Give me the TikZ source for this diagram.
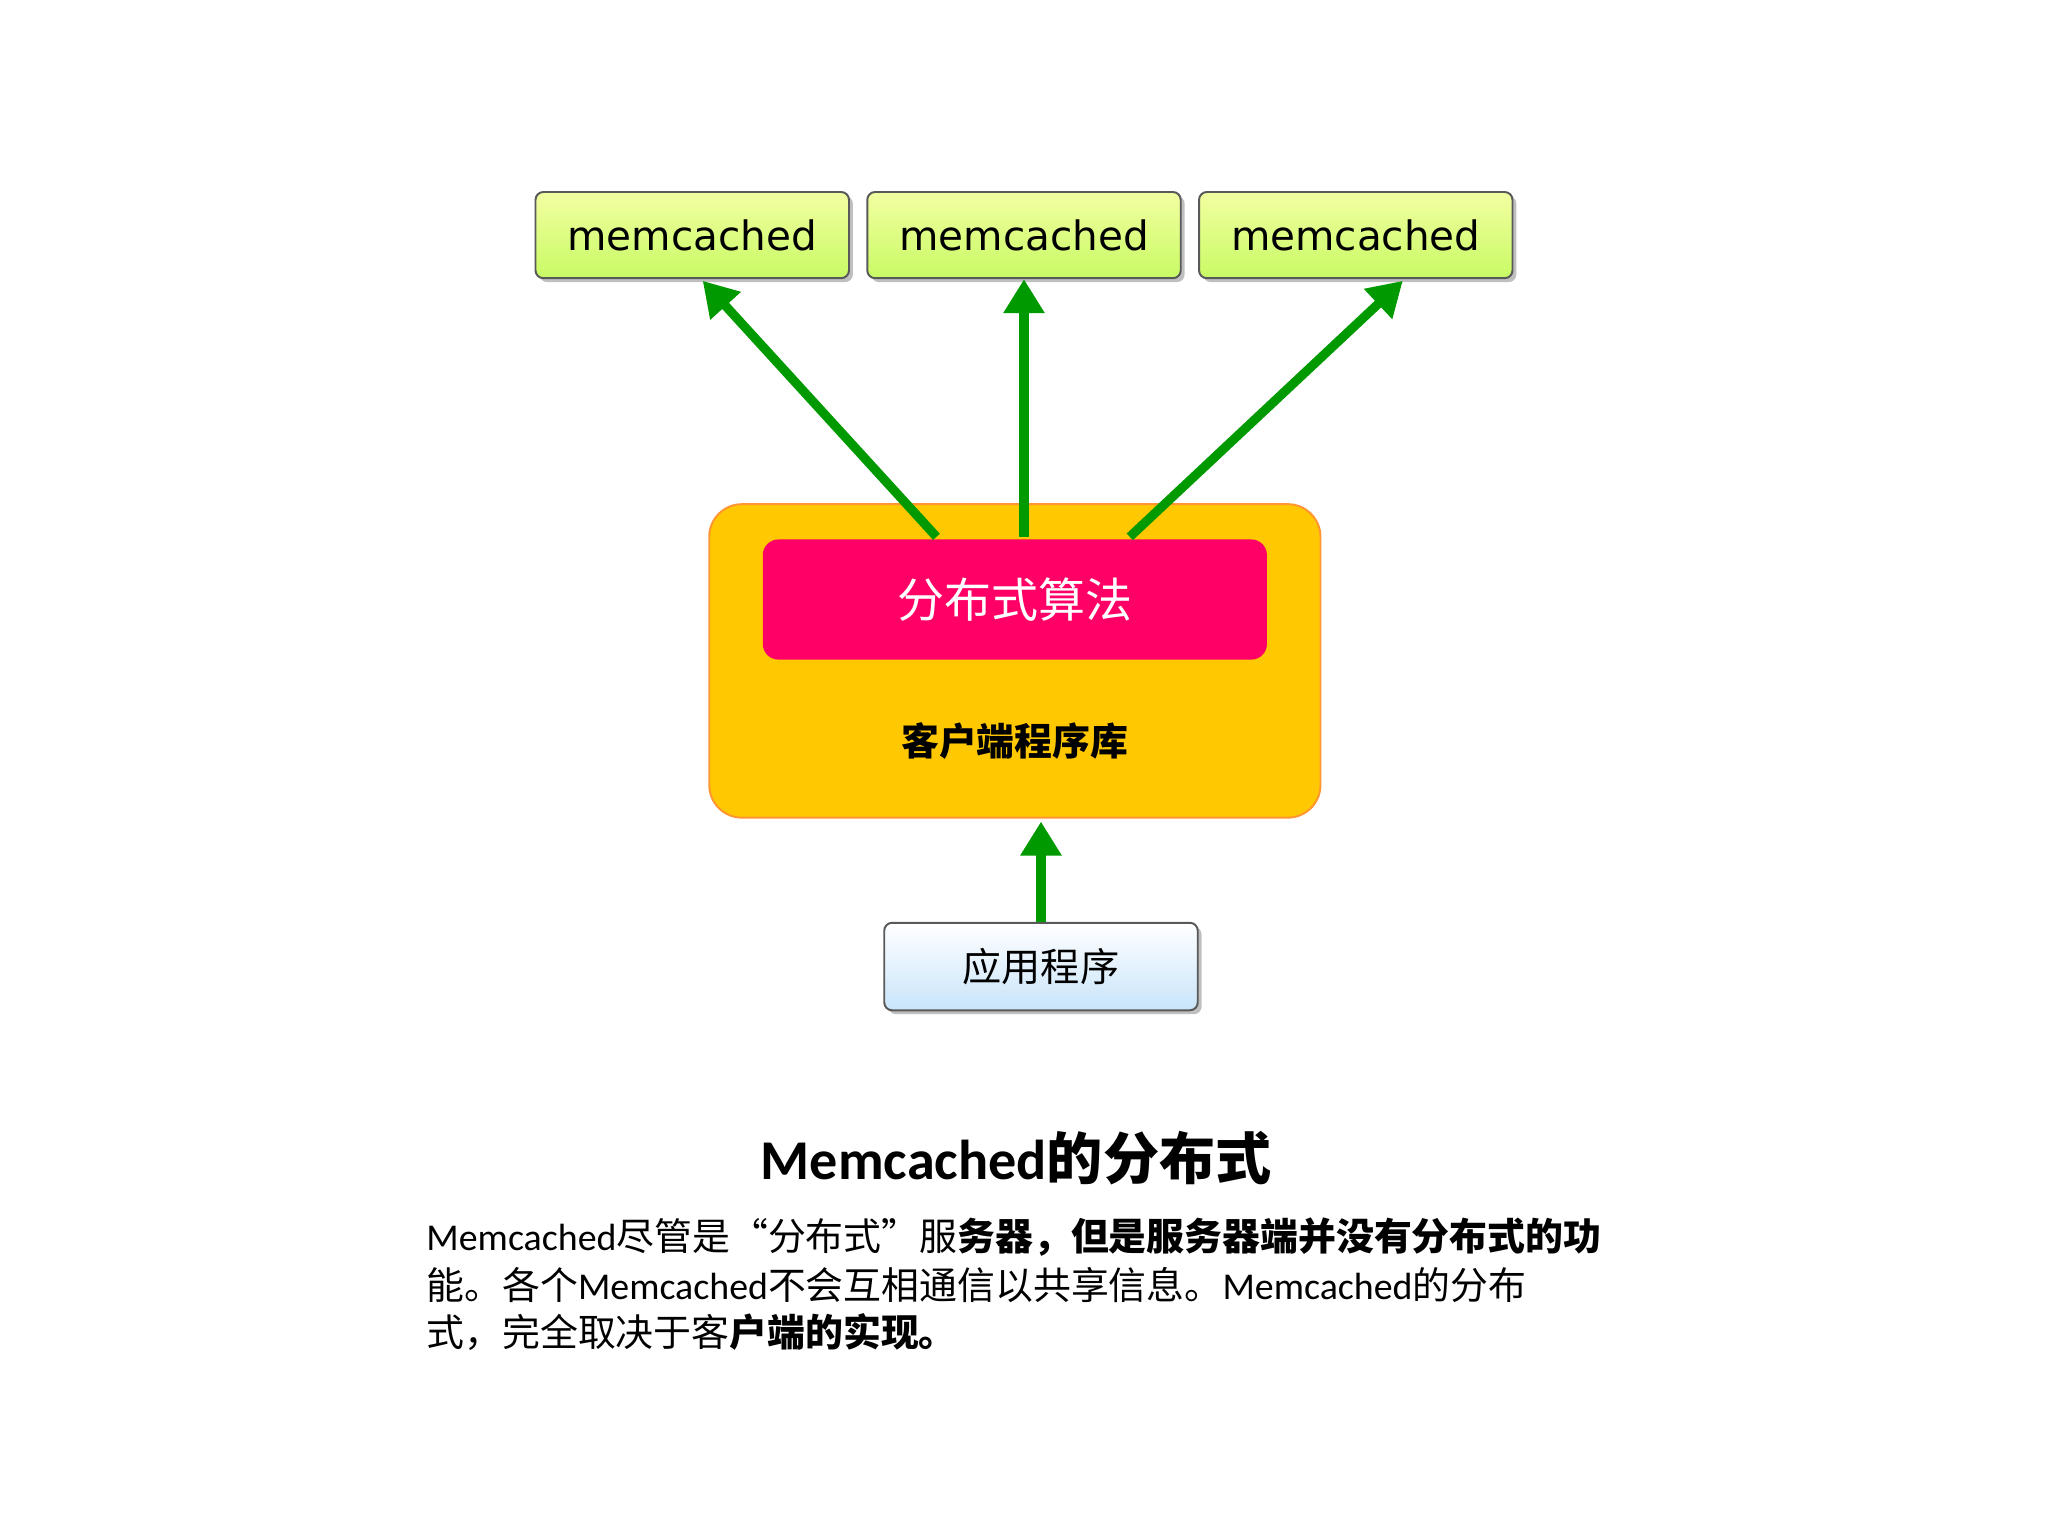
\documentclass[tikz,border=0pt]{standalone}
\usepackage{fontspec}
\setmainfont{Carlito}
\newfontfamily\cjk{Noto Sans CJK SC}
\newfontfamily\dv{DejaVu Sans}
\usetikzlibrary{arrows.meta,shadows}
\definecolor{arr}{HTML}{009A00}
\tikzset{x=1pt,y=-1pt,
 mbox/.style={draw=gray!70!black,line width=1.5pt,rounded corners=6pt,top color=white!40!green!20!yellow!40,bottom color={rgb,255:red,200;green,250;blue,100},drop shadow={shadow xshift=3pt,shadow yshift=-3pt,opacity=.5},minimum width=240pt,minimum height=66pt,font=\dv\fontsize{31}{34}\selectfont},
 abox/.style={draw=gray!70!black,line width=1.5pt,rounded corners=6pt,top color=white,bottom color={rgb,255:red,200;green,228;blue,250},drop shadow={shadow xshift=3pt,shadow yshift=-3pt,opacity=.5},minimum width=240pt,minimum height=67pt,font=\cjk\fontsize{30}{32}\selectfont},
 garr/.style={arr,line width=7pt,-{Triangle[length=26pt,width=30pt]}}}
\begin{document}
\begin{tikzpicture}
\useasboundingbox (0,0) rectangle (1568,1176);
\node[mbox] (m1) at (530,180) {memcached};
\node[mbox] (m2) at (784,180) {memcached};
\node[mbox] (m3) at (1038,180) {memcached};
\node[draw={rgb,255:red,255;green,150;blue,50},line width=1.5pt,fill={rgb,255:red,255;green,200;blue,0},rounded corners=25pt,minimum width=468pt,minimum height=240pt] (lib) at (777,506) {};
\node[fill={rgb,255:red,255;green,0;blue,102},rounded corners=12pt,minimum width=386pt,minimum height=92pt,text=white,font=\cjk\fontsize{36}{38}\selectfont] (alg) at (777,459) {分布式算法};
\node[font=\cjk\bfseries\fontsize{29}{31}\selectfont] (libt) at (777,567) {客户端程序库};
\node[abox] (app) at (797,740) {应用程序};
\coordinate (s1) at (717,411);\coordinate (s2) at (784,411);\coordinate (s3) at (865,411);
\coordinate (t1) at (538,215);\coordinate (t3) at (1074,215);
\draw[garr] (s1) -- (t1);
\draw[garr] (s2) -- (m2.south);
\draw[garr] (s3) -- (t3);
\draw[garr] (app.north) -- (797,629);
\node[font=\bfseries\fontsize{43}{46}\selectfont] (title) at (778,887) {Memcached{\cjk 的分布式}};
\node[anchor=west,font=\fontsize{29}{31}\selectfont] (l1) at (323,947) {Memcached{\cjk 尽管是“分布式”服\bfseries 务器，但是服务器端并没有分布式的功}};
\node[anchor=west,font=\fontsize{29}{31}\selectfont] (l2) at (323,984) {{\cjk 能。各个}Memcached{\cjk 不会互相通信以共享信息。}Memcached{\cjk 的分布}};
\node[anchor=west,font=\fontsize{29}{31}\selectfont] (l3) at (323,1020) {{\cjk 式，完全取决于客\bfseries 户端的实现。}};
\end{tikzpicture}
\end{document}
